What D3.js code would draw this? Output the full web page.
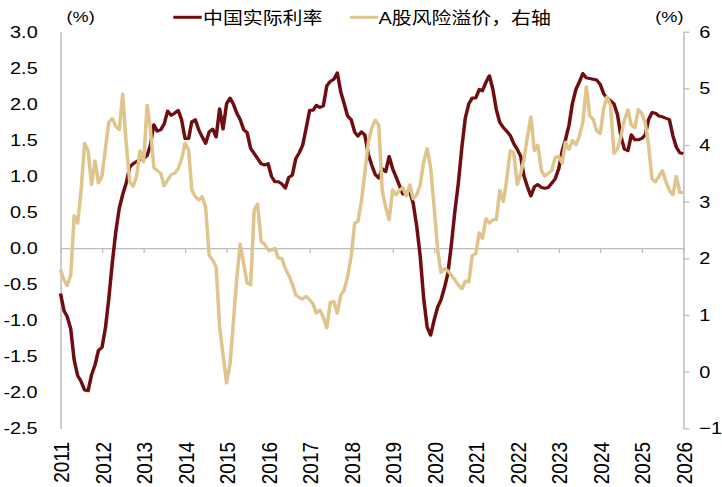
<!DOCTYPE html>
<html><head><meta charset="utf-8">
<script src="https://cdn.jsdelivr.net/npm/d3@7"></script>
<style>html,body{margin:0;padding:0;background:#fff;} svg{display:block;}</style>
</head><body><div id="chart"></div>
<script>
// ---- data (monthly, Jan 2011 .. Jan 2026) ----
const startYear = 2011;
const realRate = [
-0.63,-0.87,-0.95,-1.12,-1.55,-1.77,-1.85,-1.97,-1.98,-1.76,-1.62,-1.42,
-1.38,-1.1,-0.7,-0.2,0.22,0.55,0.74,0.9,1.12,1.17,1.2,1.23,
1.24,1.28,1.42,1.71,1.62,1.64,1.72,1.9,1.84,1.87,1.91,1.78,
1.52,1.52,1.75,1.78,1.64,1.54,1.45,1.61,1.65,1.54,1.93,1.65,
2.0,2.08,2.0,1.87,1.78,1.64,1.6,1.38,1.31,1.24,1.17,1.15,
1.17,0.99,0.92,0.92,0.89,0.83,0.98,1.01,1.24,1.32,1.43,1.66,
1.91,1.91,1.98,1.95,1.97,2.25,2.31,2.34,2.43,2.17,2.0,1.83,
1.78,1.61,1.55,1.61,1.57,1.3,1.15,1.02,0.97,1.1,1.06,1.27,
1.1,0.98,0.87,0.75,0.76,0.78,0.62,0.3,-0.12,-0.7,-1.1,-1.21,
-1.0,-0.82,-0.72,-0.55,-0.35,0.05,0.5,0.9,1.4,1.8,2.0,2.08,
2.08,2.2,2.18,2.3,2.39,2.2,1.92,1.74,1.67,1.62,1.56,1.45,
1.37,1.27,1.0,0.85,0.72,0.85,0.88,0.84,0.83,0.84,0.9,0.96,
1.1,1.35,1.5,1.7,2.0,2.2,2.3,2.42,2.36,2.35,2.34,2.33,
2.27,2.14,2.08,2.04,2.0,1.85,1.55,1.37,1.35,1.57,1.5,1.5,
1.52,1.57,1.78,1.88,1.87,1.83,1.82,1.8,1.78,1.56,1.4,1.32,
1.31];
const riskPremium = [
1.8,1.62,1.52,1.7,2.75,2.62,3.2,4.03,3.9,3.3,3.72,3.33,
3.45,3.95,4.4,4.47,4.33,4.27,4.9,4.03,3.35,3.27,3.45,3.9,
3.7,4.7,4.3,3.6,3.55,3.5,3.28,3.38,3.48,3.5,3.58,3.75,
4.03,3.92,3.21,3.09,3.03,3.09,2.9,2.05,1.97,1.85,0.79,0.3,
-0.2,0.15,0.85,1.65,2.25,1.9,1.56,1.53,2.85,2.96,2.3,2.25,
2.15,2.14,2.18,2.0,2.0,1.82,1.7,1.55,1.35,1.31,1.28,1.33,
1.27,1.19,1.03,1.09,0.96,0.77,1.22,1.24,1.03,1.35,1.44,1.68,
2.03,2.62,2.65,3.0,3.5,4.05,4.3,4.44,4.35,3.2,2.9,2.68,
3.21,3.12,3.2,3.25,3.1,3.3,3.05,3.12,3.3,3.7,3.94,3.6,
2.9,2.15,1.75,1.82,1.78,1.7,1.62,1.53,1.46,1.6,1.58,2.05,
2.08,2.45,2.35,2.7,2.62,2.68,2.68,3.2,3.0,3.4,3.9,3.87,
3.3,3.5,3.75,4.15,4.5,3.9,4.0,3.55,3.45,3.5,3.55,3.78,
3.8,3.68,4.05,3.92,4.08,4.0,4.15,4.4,5.03,4.52,4.45,4.25,
4.2,4.65,4.85,4.7,3.85,3.93,4.15,4.44,4.62,4.35,4.3,4.63,
4.56,4.38,4.0,3.4,3.35,3.45,3.55,3.35,3.2,3.12,3.45,3.16,
3.16];
const yearTicks = d3.range(2011, 2027);
const leftTicks = [-2.5,-2,-1.5,-1,-0.5,0,0.5,1,1.5,2,2.5,3];
const rightTicks = [-1,0,1,2,3,4,5,6];
const seriesNames = ["中国实际利率", "A股风险溢价，右轴"];
const unitLabel = "(%)";

// ---- style ----
const W = 722, H = 487, S = 1.17;           // horizontal stretch of the original
const RED = "#6f0d10", GOLD = "#dfc48c", AXIS = "#bdbdbd";
const FONT = "'Liberation Sans', Arial, 'Noto Sans CJK SC', sans-serif";

const svg = d3.select("#chart").append("svg").attr("width", W).attr("height", H)
  .style("background", "#fff");
const g = svg.append("g").attr("transform", `scale(${S},1)`)
  .style("font-family", FONT);

const X0 = 60.5 / S, X1 = 683.3 / S, YT = 31.7, YB = 428.3;
const x = d3.scaleTime().domain([new Date(2011,0,1), new Date(2026,0,1)]).range([X0, X1]);
const yL = d3.scaleLinear().domain([-2.5, 3]).range([YB, YT]);
const yR = d3.scaleLinear().domain([-1, 6]).range([YB, YT]);

const dates = realRate.map((_, i) => new Date(startYear, i, 1));

// left axis
const axL = g.append("g").attr("transform", `translate(${X0},0)`)
  .call(d3.axisLeft(yL).tickValues(leftTicks).tickSize(0).tickPadding(19.5)
    .tickFormat(d => d3.format(".1f")(d).replace("−", "-")));
axL.select(".domain").attr("stroke", AXIS).attr("stroke-width", 1.3);
axL.selectAll("text").attr("font-size", 17).attr("fill", "#000").style("font-family", FONT);

// right axis
const axR = g.append("g").attr("transform", `translate(${X1},0)`)
  .call(d3.axisRight(yR).tickValues(rightTicks).tickSizeInner(5.2).tickSizeOuter(0).tickPadding(8.5)
    .tickFormat(d3.format("d")));
axR.select(".domain").attr("stroke", AXIS).attr("stroke-width", 1.3);
axR.selectAll("line").attr("stroke", AXIS).attr("stroke-width", 1.3);
axR.selectAll("text").attr("font-size", 17).attr("fill", "#000").style("font-family", FONT);

// zero line with year ticks
const axZ = g.append("g").attr("transform", `translate(0,${yL(0)})`)
  .call(d3.axisBottom(x).tickValues(yearTicks.map(y => new Date(y,0,1)))
    .tickSizeInner(5).tickSizeOuter(0).tickFormat(""));
axZ.select(".domain").attr("stroke", AXIS).attr("stroke-width", 1.3);
axZ.selectAll("line").attr("stroke", AXIS).attr("stroke-width", 1.1);

// bottom year labels (rotated)
const axB = g.append("g").attr("transform", `translate(0,435)`)
  .call(d3.axisBottom(x).tickValues(yearTicks.map(y => new Date(y,0,1)))
    .tickSize(0).tickFormat(d3.timeFormat("%Y")));
axB.select(".domain").remove();
axB.selectAll("text")
  .attr("transform", "rotate(-90)")
  .attr("text-anchor", "end")
  .attr("x", -7).attr("y", 0).attr("dy", "0.36em")
  .attr("font-size", 19).attr("fill", "#000").style("font-family", FONT);

// lines
const lineL = d3.line().x((d, i) => x(dates[i])).y(d => yL(d)).curve(d3.curveLinear);
const lineR = d3.line().x((d, i) => x(dates[i])).y(d => yR(d)).curve(d3.curveLinear);
g.append("path").datum(realRate).attr("d", lineL).attr("fill", "none")
  .attr("stroke", RED).attr("stroke-width", 3).attr("stroke-linejoin", "round");
g.append("path").datum(riskPremium).attr("d", lineR).attr("fill", "none")
  .attr("stroke", GOLD).attr("stroke-width", 3).attr("stroke-linejoin", "round");

// unit labels
g.append("text").attr("x", 66.5 / S).attr("y", 17).attr("dy", "0.35em")
  .attr("font-size", 15.5).text(unitLabel);
g.append("text").attr("x", 683.5 / S).attr("y", 17).attr("dy", "0.35em")
  .attr("text-anchor", "end").attr("font-size", 15.5).text(unitLabel);

// legend
const legend = [
  {name: seriesNames[0], color: RED, x0: 173.3, x1: 201.7, tx: 203},
  {name: seriesNames[1], color: GOLD, x0: 350, x1: 378, tx: 378.5}
];
legend.forEach(l => {
  g.append("line").attr("x1", l.x0 / S).attr("x2", l.x1 / S).attr("y1", 17.3).attr("y2", 17.3)
    .attr("stroke", l.color).attr("stroke-width", 3);
  g.append("text").attr("x", l.tx / S).attr("y", 18.5).attr("dy", "0.35em")
    .attr("font-size", 17).attr("fill", "#000").text(l.name);
});
</script>
</body></html>
